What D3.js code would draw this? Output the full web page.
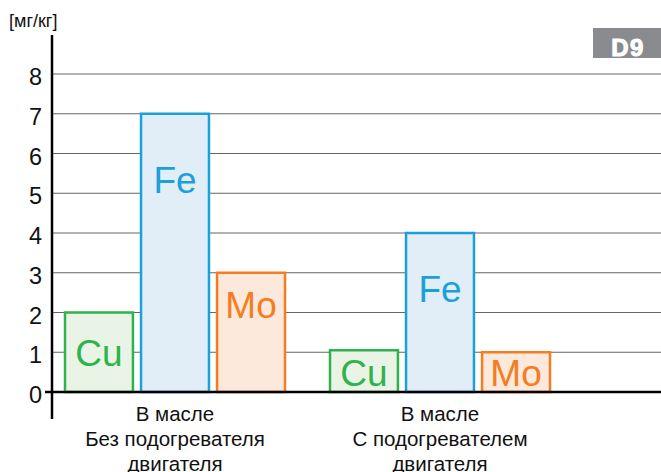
<!DOCTYPE html>
<html>
<head>
<meta charset="utf-8">
<script src="https://cdn.jsdelivr.net/npm/d3@7"></script>
<style>
  body { margin: 0; background: #fff; }
  svg text { font-family: "Liberation Sans", Arial, sans-serif; }
</style>
</head>
<body>
<script>
// data
var groups = ["g1", "g2"];
var groupLabels = [
  ["В масле", "Без подогревателя", "двигателя"],
  ["В масле", "С подогревателем", "двигателя"]
];
var metals = ["Cu", "Fe", "Mo"];
var values = [
  [2, 7, 3],
  [1.05, 4, 1]
];
// where the metal name sits, in mg/kg
var labelAt = [
  [1, 5.35, 2.2],
  [0.48, 2.6, 0.48]
];
var yTicks = [0, 1, 2, 3, 4, 5, 6, 7, 8];

var fills = {Cu: "#e9f3e6", Fe: "#e1eef7", Mo: "#fde9db"};
var strokes = {Cu: "#2fb34c", Fe: "#1ba1d9", Mo: "#f47d22"};

var width = 661, height = 472;
var svg = d3.select("body").append("svg")
  .attr("width", width).attr("height", height);

var y = d3.scaleLinear().domain([0, 8]).range([392, 74]);
var x0 = d3.scaleBand().domain(groups).range([42.5, 572.5]);
var x1 = d3.scaleBand().domain(metals).range([0, 222]).paddingInner(0.08);
var axisX = 52;

// gridlines
svg.append("g").selectAll("line")
  .data(yTicks.filter(d => d > 0))
  .enter().append("line")
  .attr("x1", axisX).attr("x2", width)
  .attr("y1", d => y(d)).attr("y2", d => y(d))
  .attr("stroke", "#666").attr("stroke-width", 1.2);

// tick labels
svg.append("g").selectAll("text")
  .data(yTicks)
  .enter().append("text")
  .attr("x", 42).attr("y", d => y(d) + 11)
  .attr("text-anchor", "end")
  .attr("font-size", 23.5)
  .attr("fill", "#111")
  .text(d => d);

// bars
var g = svg.append("g").selectAll("g")
  .data(groups)
  .enter().append("g")
  .attr("transform", d => "translate(" + (x0(d) + x0.bandwidth() / 2 - 111) + ",0)");

g.selectAll("rect")
  .data((d, i) => metals.map((m, j) => ({m: m, v: values[i][j]})))
  .enter().append("rect")
  .attr("x", d => x1(d.m) + 1)
  .attr("width", x1.bandwidth() - 2)
  .attr("y", d => y(d.v))
  .attr("height", d => y(0) - y(d.v))
  .attr("fill", d => fills[d.m])
  .attr("stroke", d => strokes[d.m])
  .attr("stroke-width", 2.5);

g.selectAll("text.m")
  .data((d, i) => metals.map((m, j) => ({m: m, l: labelAt[i][j]})))
  .enter().append("text")
  .attr("class", "m")
  .attr("x", d => x1(d.m) + x1.bandwidth() / 2)
  .attr("y", d => y(d.l))
  .attr("dy", "0.36em")
  .attr("text-anchor", "middle")
  .attr("font-size", 37)
  .attr("fill", d => strokes[d.m])
  .text(d => d.m);

// category labels
svg.append("g").selectAll("text")
  .data(groups)
  .enter().append("text")
  .attr("x", d => x0(d) + x0.bandwidth() / 2)
  .attr("y", 421)
  .attr("text-anchor", "middle")
  .attr("font-size", 20.5)
  .attr("fill", "#111")
  .each(function(d, i) {
    d3.select(this).selectAll("tspan")
      .data(groupLabels[i])
      .enter().append("tspan")
      .attr("x", x0(d) + x0.bandwidth() / 2)
      .attr("dy", (t, k) => k === 0 ? 0 : 25)
      .text(t => t);
  });

// axes
svg.append("line")
  .attr("x1", axisX).attr("x2", axisX)
  .attr("y1", 35).attr("y2", 419)
  .attr("stroke", "#000").attr("stroke-width", 2.5);
svg.append("line")
  .attr("x1", 45).attr("x2", width)
  .attr("y1", y(0)).attr("y2", y(0))
  .attr("stroke", "#000").attr("stroke-width", 2.5);

// unit label
svg.append("text")
  .attr("x", 9).attr("y", 27)
  .attr("font-size", 18)
  .attr("fill", "#111")
  .text("[мг/кг]");

// badge
svg.append("rect")
  .attr("x", 593).attr("y", 28)
  .attr("width", 68).attr("height", 30)
  .attr("fill", "#898b8e");
svg.append("text")
  .attr("x", 628).attr("y", 56)
  .attr("text-anchor", "middle")
  .attr("font-size", 24)
  .attr("font-weight", "bold")
  .attr("letter-spacing", 1.5)
  .attr("fill", "#fff")
  .attr("stroke", "#fff")
  .attr("stroke-width", 1)
  .text("D9");
</script>
</body>
</html>
